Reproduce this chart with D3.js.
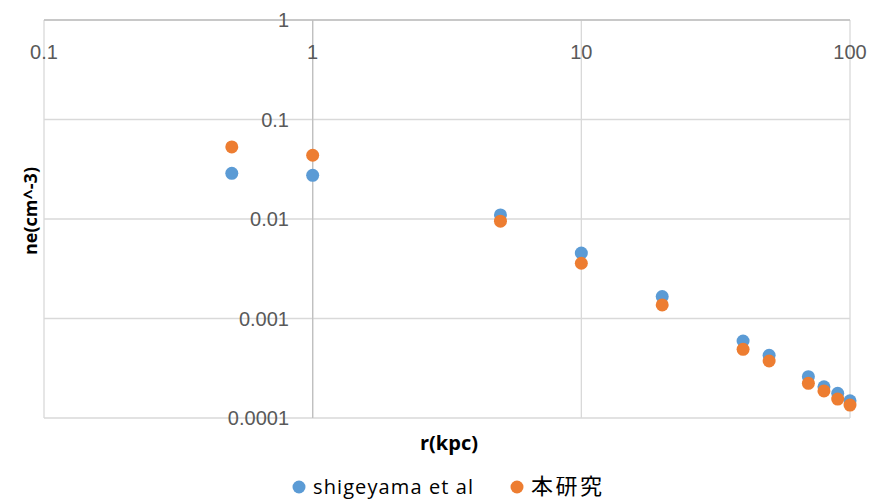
<!DOCTYPE html>
<html>
<head>
<meta charset="utf-8">
<script src="https://cdn.jsdelivr.net/npm/d3@7"></script>
<style>
  body { margin: 0; background: #fff; }
  svg { display: block; }
</style>
</head>
<body>
<div id="chart"></div>
<script>
// r (kpc)
const radii = [0.5, 1, 5, 10, 20, 40, 50, 70, 80, 90, 100];
// ne (cm^-3)
const shigeyama = [0.0288, 0.0275, 0.011, 0.00455, 0.00166, 0.000594, 0.000427, 0.00026, 0.000206, 0.000177, 0.000149];
const honkenkyu = [0.053, 0.0437, 0.0095, 0.00359, 0.00137, 0.00049, 0.000374, 0.000223, 0.000187, 0.000155, 0.000135];

const xTicks = [0.1, 1, 10, 100];
const yTicks = [0.0001, 0.001, 0.01, 0.1, 1];
const xTickLabels = ["0.1", "1", "10", "100"];
const yTickLabels = ["0.0001", "0.001", "0.01", "0.1", "1"];

const series = [
  { name: "shigeyama et al", values: shigeyama, color: "#5B9BD5" },
  { name: "本研究", values: honkenkyu, color: "#ED7D31" }
];

const width = 872, height = 499;
const plotLeft = 44, plotRight = 850, plotTop = 20, plotBottom = 418;

const svg = d3.select("#chart").append("svg")
  .attr("width", width)
  .attr("height", height);

const x = d3.scaleLog().domain([0.1, 100]).range([plotLeft, plotRight]);
const y = d3.scaleLog().domain([0.0001, 1]).range([plotBottom, plotTop]);

const grid = svg.append("g").attr("stroke", "#d9d9d9").attr("stroke-width", 1.3);

grid.selectAll("line.h")
  .data(yTicks)
  .join("line")
  .attr("class", "h")
  .attr("x1", plotLeft).attr("x2", plotRight)
  .attr("y1", d => y(d)).attr("y2", d => y(d));

grid.selectAll("line.v")
  .data(xTicks)
  .join("line")
  .attr("class", "v")
  .attr("x1", d => x(d)).attr("x2", d => x(d))
  .attr("y1", plotTop).attr("y2", plotBottom);

// y axis crosses at x = 1
grid.append("line")
  .attr("x1", x(1)).attr("x2", x(1))
  .attr("y1", plotTop).attr("y2", plotBottom)
  .attr("stroke", "#bfbfbf");
// x axis crosses at y = 1
grid.append("line")
  .attr("x1", plotLeft).attr("x2", plotRight)
  .attr("y1", y(1)).attr("y2", y(1))
  .attr("stroke", "#bfbfbf");

const tickFont = "'Liberation Sans', Arial, sans-serif";

svg.append("g")
  .selectAll("text")
  .data(xTicks)
  .join("text")
  .attr("x", d => x(d))
  .attr("y", 59)
  .attr("text-anchor", "middle")
  .attr("font-family", tickFont)
  .attr("font-size", 20)
  .attr("fill", "#595959")
  .text((d, i) => xTickLabels[i]);

svg.append("g")
  .selectAll("text")
  .data(yTicks)
  .join("text")
  .attr("x", 289)
  .attr("y", d => y(d) + 7)
  .attr("text-anchor", "end")
  .attr("font-family", tickFont)
  .attr("font-size", 20)
  .attr("fill", "#595959")
  .text((d, i) => yTickLabels[i]);

// points
series.forEach(s => {
  svg.append("g")
    .selectAll("circle")
    .data(radii.map((r, i) => [r, s.values[i]]))
    .join("circle")
    .attr("cx", d => x(d[0]))
    .attr("cy", d => y(d[1]))
    .attr("r", 6.5)
    .attr("fill", s.color);
});

// axis titles
const titleFont = "'Open Sans', 'Noto Sans', sans-serif";
svg.append("text")
  .attr("x", 449)
  .attr("y", 450)
  .attr("text-anchor", "middle")
  .attr("font-family", titleFont)
  .attr("font-weight", "bold")
  .attr("font-size", 20)
  .attr("fill", "#000")
  .text("r(kpc)");

svg.append("text")
  .attr("transform", "translate(37,211) rotate(-90)")
  .attr("text-anchor", "middle")
  .attr("font-family", titleFont)
  .attr("font-weight", "bold")
  .attr("font-size", 18)
  .attr("fill", "#000")
  .text("ne(cm^-3)");

// legend
const legendX = [299, 517];
const legend = svg.append("g")
  .selectAll("g")
  .data(series)
  .join("g")
  .attr("transform", (d, i) => `translate(${legendX[i]},487)`);

legend.append("circle").attr("r", 6.5).attr("fill", d => d.color);
legend.append("text")
  .attr("x", 14)
  .attr("y", 7)
  .attr("font-family", "'Open Sans', 'Noto Sans CJK JP', sans-serif")
  .attr("font-size", (d, i) => i === 1 ? 22 : 20)
  .attr("letter-spacing", (d, i) => i === 1 ? 2.5 : 1.1)
  .attr("fill", "#000")
  .text(d => d.name);
</script>
</body>
</html>
